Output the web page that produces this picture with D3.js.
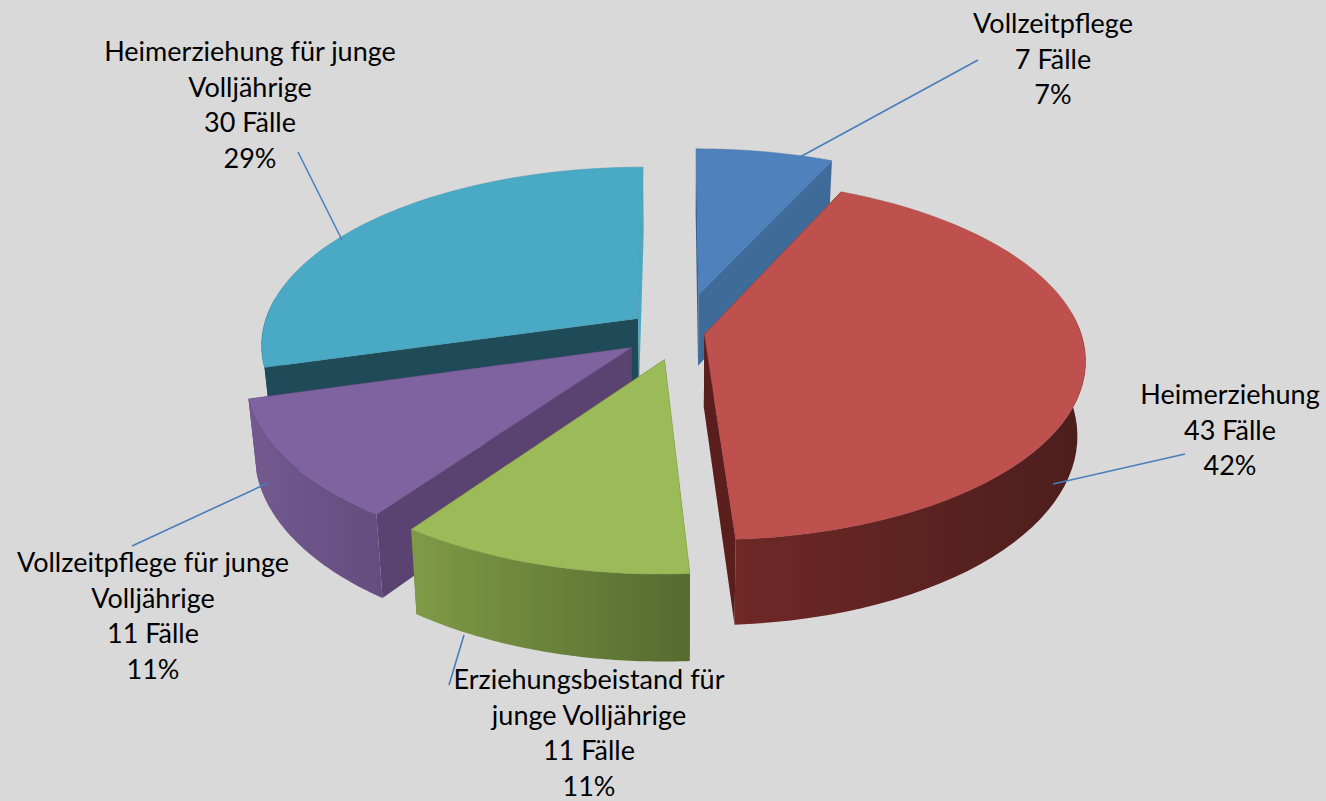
<!DOCTYPE html>
<html>
<head>
<meta charset="utf-8">
<script src="https://cdn.jsdelivr.net/npm/d3@7"></script>
<style>
  html, body { margin: 0; padding: 0; background: #d9d9d9; }
  svg { display: block; }
  text { font-family: Lato, "Open Sans", sans-serif; font-size: 27px; fill: #000; }
</style>
</head>
<body>
<div class="chart"></div>
<script>
const categories = ['Vollzeitpflege', 'Heimerziehung', 'Erziehungsbeistand für junge Volljährige', 'Vollzeitpflege für junge Volljährige', 'Heimerziehung für junge Volljährige']
const cases = [7, 43, 11, 11, 30]
const percents = [7, 42, 11, 11, 29]
const labelLines = [
    ['Vollzeitpflege'],
    ['Heimerziehung'],
    ['Erziehungsbeistand für', 'junge Volljährige'],
    ['Vollzeitpflege für junge', 'Volljährige'],
    ['Heimerziehung für junge', 'Volljährige']
]

const width = 1326
const height = 801

// look of each slice, same order as the data
// how far each slice is pulled out, on the ground plane
const explodeX = [0.056, 0.07, -0.035, -0.122, -0.107]
const explodeY = [0.195, -0.035, -0.175, -0.11, 0.055]
const topColors = ['#4f81bd', '#be504d', '#9bbb59', '#7f63a1', '#4aaac5']
const wallColors = [
    ['#3c6896', '#3c6896'],
    ['#6e2826', '#4b1e1c'],
    ['#7f9a47', '#556b2f'],
    ['#73598f', '#644d7f'],
    ['#1f4a57', '#1f4a57']
]
const startSideColors = ['#3a6390', '#5a1f1d', '#5d7433', '#5a4271', '#1f4a57']
const endSideColors = ['#3f6b99', '#5a1f1d', '#5d7433', '#5a4271', '#4aaac5']
const labelPos = [[1053, 33], [1230, 404], [589, 689], [153, 572], [250, 61]]
const leaders = [
    [[978, 60], [800, 157]],
    [[1185, 454], [1053, 484]],
    [[449, 685], [464, 635]],
    [[132, 546], [268, 483]],
    [[298, 152], [342, 240]]
]
const drawOrder = [0, 4, 1, 3, 2]

// camera: ground plane point -> screen
const cx = 678, cy = 328, R = 375, kR = 175, persp = 0.14, depth = 73

const project = (X, Y, z = 0) => {
    const w = 1 + persp * Y
    const x = cx + R * X / w
    const y = cy - kR * Y / w + z * depth / w
    return [cx + (x - cx) * (1 - 0.02 * z), y]
}

const svg = d3.select('.chart')
    .append('svg')
    .attr('width', width)
    .attr('height', height)

svg.append('rect')
    .attr('width', width)
    .attr('height', height)
    .attr('fill', '#d9d9d9')

const slices = d3.pie().sort(null).value(d => d)(cases)
const line = d3.line()
const defs = svg.append('defs')

const rimAngles = (a, b) => d3.range(0, 61).map(i => a + (b - a) * i / 60)

slices.forEach((s, i) => {
    const ox = explodeX[i]
    const oy = explodeY[i]
    s.apex = z => project(ox, oy, z)
    s.rim = (t, z) => project(ox + Math.sin(t), oy + Math.cos(t), z)
})

const grad = defs.selectAll('linearGradient')
    .data(slices)
    .enter()
    .append('linearGradient')
    .attr('id', (d, i) => `wall${i}`)
    .attr('gradientUnits', 'objectBoundingBox')
grad.append('stop').attr('offset', '0%').attr('stop-color', (d, i) => wallColors[i][0])
grad.append('stop').attr('offset', '100%').attr('stop-color', (d, i) => wallColors[i][1])

const pieG = svg.append('g')

drawOrder.forEach(i => {
    const s = slices[i]
    const g = pieG.append('g').attr('class', `slice-${i}`)
    const arc = rimAngles(s.startAngle, s.endAngle)

    // flat cut faces
    const sideFace = t => [s.apex(0), s.rim(t, 0), s.rim(t, 1), s.apex(1)]
    g.append('path').attr('d', line(sideFace(s.startAngle)) + 'Z').attr('fill', startSideColors[i])
    g.append('path').attr('d', line(sideFace(s.endAngle)) + 'Z').attr('fill', endSideColors[i])

    // outer wall, only the part of the rim that faces the viewer
    const front = arc.filter(t => Math.cos(t) < 0.15)
    if (front.length > 1) {
        const wall = front.map(t => s.rim(t, 0)).concat(front.slice().reverse().map(t => s.rim(t, 1)))
        g.append('path').attr('d', line(wall) + 'Z').attr('fill', `url(#wall${i})`)
    }

    // top
    const top = [s.apex(0)].concat(arc.map(t => s.rim(t, 0)))
    g.append('path')
        .attr('d', line(top) + 'Z')
        .attr('fill', topColors[i])
        .attr('stroke', d3.color(topColors[i]).darker(0.4))
        .attr('stroke-width', 0.5)
})

// leader lines
svg.selectAll('line.leader')
    .data(leaders)
    .enter()
    .append('line')
    .attr('class', 'leader')
    .attr('x1', d => d[0][0])
    .attr('y1', d => d[0][1])
    .attr('x2', d => d[1][0])
    .attr('y2', d => d[1][1])
    .attr('stroke', '#4a7ebb')
    .attr('stroke-width', 1.6)

// labels
const labels = svg.selectAll('text.label')
    .data(categories)
    .enter()
    .append('text')
    .attr('class', 'label')
    .attr('text-anchor', 'middle')

labels.each(function (d, i) {
    const rows = labelLines[i].concat([`${cases[i]} Fälle`, `${percents[i]}%`])
    d3.select(this).selectAll('tspan')
        .data(rows)
        .enter()
        .append('tspan')
        .attr('x', labelPos[i][0])
        .attr('y', (r, j) => labelPos[i][1] + j * 35.7)
        .text(r => r)
})
</script>
</body>
</html>
